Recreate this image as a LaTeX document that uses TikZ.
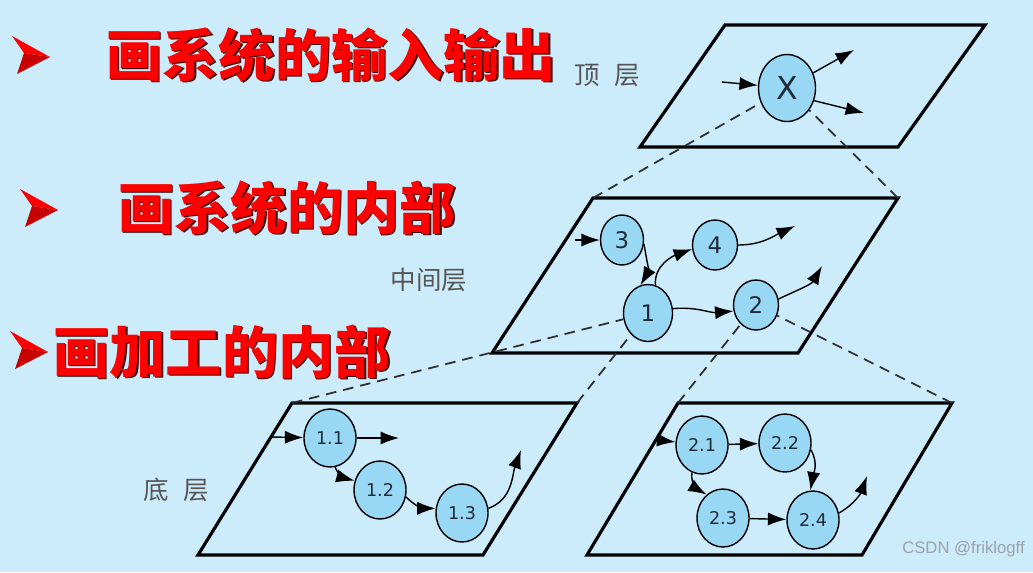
\documentclass[tikz,border=0pt]{standalone}
\usepackage{fontspec}
\setmainfont{DejaVu Sans}
\newfontfamily\cjk{Noto Sans CJK SC}
\newfontfamily\wm{Liberation Sans}
\usetikzlibrary{arrows.meta, shapes.geometric}
\definecolor{bgblue}{HTML}{CCEBFB}
\definecolor{procblue}{HTML}{99D8F4}
\definecolor{labelgray}{HTML}{555555}
\definecolor{dashgray}{HTML}{2E2E2E}
\definecolor{shadowred}{HTML}{3A0000}
\definecolor{nodetext}{HTML}{1F2B38}
\definecolor{wmgray}{HTML}{9AA3AB}
\newcommand{\headline}[3]{%
  \node[head, text=shadowred, xshift=0.9pt, yshift=-0.9pt] (#1s) at (#2) {#3};
  \node[head] (#1) at (#2) {#3};}
\newcommand{\pointer}[1]{%
  \begin{scope}[shift={(#1)}]
    \fill[red] (0,-19) -- (38,2) -- (12,-2) -- cycle;
    \fill[red!78!black] (12,-2) -- (38,2) -- (5,19) -- cycle;
  \end{scope}}

\begin{document}
\begin{tikzpicture}[x=0.02cm, y=-0.02cm,
    plane/.style={line width=1.8pt, line join=miter},
    proc/.style={ellipse, draw=black, line width=0.8pt, fill=procblue, inner sep=0pt, text=nodetext,
      font=\fontsize{13}{13}\selectfont, minimum width=0.9cm, minimum height=1cm},
    subproc/.style={proc, font=\fontsize{10}{10}\selectfont, minimum width=1.04cm, minimum height=1.16cm},
    flow/.style={-{Latex[length=10.5pt,width=7.5pt]}, line width=0.8pt},
    link/.style={dash pattern=on 6pt off 4pt, line width=1pt, draw=dashgray},
    head/.style={anchor=base west, inner sep=0pt, text=red, font=\cjk\bfseries\fontsize{32}{32}\selectfont},
    layer/.style={inner sep=0pt, text=labelgray, font=\cjk\fontsize{14.5}{14.5}\selectfont}]
  \useasboundingbox[fill=bgblue] (0,0) rectangle (1033,572);

  % headings
  \pointer{12,55}
  \pointer{20,208}
  \pointer{10,350}
  \headline{h1}{106,76}{画系统的输入输出}
  \headline{h2}{118,229}{画系统的内部}
  \headline{h3}{53,373}{画加工的内部}

  % planes
  \coordinate (T1) at (725,25);  \coordinate (T2) at (985,25);
  \coordinate (T3) at (898,147); \coordinate (T4) at (640,147);
  \coordinate (M1) at (593,198); \coordinate (M2) at (898,198);
  \coordinate (M3) at (798,353); \coordinate (M4) at (492,353);
  \coordinate (L1) at (292,403); \coordinate (L2) at (577,403);
  \coordinate (L3) at (483,555); \coordinate (L4) at (198,555);
  \coordinate (R1) at (678,403); \coordinate (R2) at (952,403);
  \coordinate (R3) at (862,555); \coordinate (R4) at (587,555);
  \foreach \p in {T,M,L,R}
    \draw[plane] (\p1) -- (\p2) -- (\p3) -- (\p4) -- cycle;

  \node[layer] (ltop) at (607,75) {顶\hspace{0.55em}层};
  \node[layer] (lmid) at (429,280) {中间层};
  \node[layer] (lbot) at (176,490) {底\hspace{0.55em}层};

  % processes
  \node[proc, minimum width=1.14cm, minimum height=1.34cm, font=\fontsize{18}{18}\selectfont] (X) at (787,88) {X};
  \node[proc, minimum width=0.86cm] (p3) at (622,240) {3};
  \node[proc] (p4) at (715,245) {4};
  \node[proc, minimum width=0.98cm, minimum height=1.14cm] (p1) at (648,313) {1};
  \node[proc] (p2) at (756,305) {2};
  \node[subproc] (p11) at (330,438) {1.1};
  \node[subproc] (p12) at (380,490) {1.2};
  \node[subproc] (p13) at (462,513) {1.3};
  \node[subproc] (p21) at (702,445) {2.1};
  \node[subproc] (p22) at (785,443) {2.2};
  \node[subproc] (p23) at (723,518) {2.3};
  \node[subproc] (p24) at (813,520) {2.4};

  % free ends
  \coordinate (xin) at (722,82);
  \coordinate (xo1) at (854,50);
  \coordinate (xo2) at (864,113);
  \coordinate (in3) at (575,240);
  \coordinate (o4) at (795,226);
  \coordinate (o2) at (822,266);
  \coordinate (in11) at (270,437);
  \coordinate (o11) at (399,438);
  \coordinate (o13) at (521,450);
  \coordinate (in21) at (658,440);
  \coordinate (o24) at (867,476);

  % data flows
  \draw[flow] (xin) -- (X);
  \draw[flow] (X.30) -- (xo1);
  \draw[flow] (X.-25) -- (xo2);
  \draw[flow] (in3) -- (p3);
  \draw[flow] (p3.-10) to[out=-80, in=60] (p1.105);
  \draw[flow] (p1.75) to[out=95, in=200] (p4.190);
  \draw[flow] (p4.east) to[out=0, in=205] (o4);
  \draw[flow] (p1.10) to[out=5, in=185] (p2.195);
  \draw[flow] (p2.15) to[out=25, in=240] (o2);
  \draw[flow] (in11) -- (p11);
  \draw[flow] (p11.east) -- (o11);
  \draw[flow] (p11.-80) to[out=-70, in=165] (p12.160);
  \draw[flow] (p12.-15) to[out=-45, in=180] (p13.170);
  \draw[flow] (p13.10) to[out=20, in=250] (o13);
  \draw[flow] (in21) -- (p21);
  \draw[flow] (p21) -- (p22);
  \draw[flow] (p22.-15) to[out=-60, in=80] (p24.95);
  \draw[flow] (p21.250) to[out=-100, in=150] (p23.125);
  \draw[flow] (p23) -- (p24);
  \draw[flow] (p24.15) to[out=30, in=250] (o24);

  % layer links
  \draw[link] (M1) -- (X);
  \draw[link] (M2) -- (X);
  \draw[link] (L1) -- (p1);
  \draw[link] (L2) -- (p1);
  \draw[link] (R1) -- (p2);
  \draw[link] (R2) -- (p2);

  \node[anchor=east, inner sep=0pt, text=wmgray, font=\wm\fontsize{9.5}{9.5}\selectfont] (mark) at (1025,549) {CSDN @friklogff};
\end{tikzpicture}
\end{document}
